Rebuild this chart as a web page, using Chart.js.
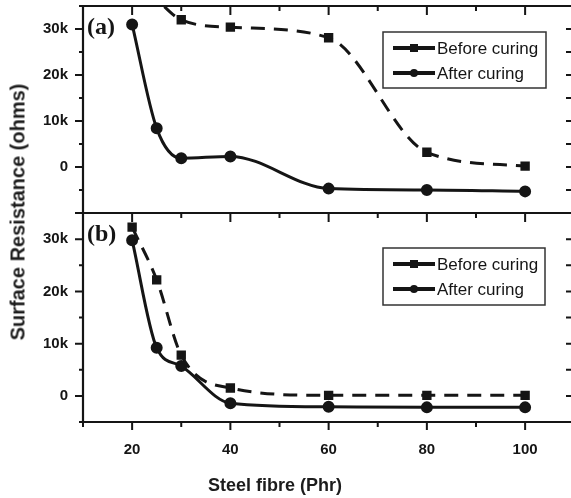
<!DOCTYPE html>
<html>
<head>
<meta charset="utf-8">
<script src="https://cdn.jsdelivr.net/npm/chart.js@4.4.1/dist/chart.umd.min.js"></script>
<style>
    html, body {
        margin: 0;
        padding: 0;
        background: #fff;
    }

    #wrap {
        position: relative;
        width: 571px;
        height: 498px;
        overflow: hidden;
        background: #fff;
    }

    #canvasA {
        position: absolute;
        left: 0;
        top: 0;
    }

    #canvasB {
        position: absolute;
        left: 0;
        top: 210px;
    }

    .ytitle {
        position: absolute;
        left: 18px;
        top: 212px;
        transform: translate(-50%, -50%) rotate(-90deg);
        font: bold 20px "Liberation Sans", Arial, sans-serif;
        color: #1c1c1c;
        white-space: nowrap;
    }

    .xtitle {
        position: absolute;
        left: 275px;
        top: 485px;
        transform: translate(-50%, -50%);
        font: bold 18px "Liberation Sans", Arial, sans-serif;
        color: #1c1c1c;
        white-space: nowrap;
    }
</style>
</head>
<body>
<div id="wrap">
    <canvas id="canvasA" width="571" height="216"></canvas>
    <canvas id="canvasB" width="571" height="288"></canvas>
    <div class="ytitle">Surface Resistance (ohms)</div>
    <div class="xtitle">Steel fibre (Phr)</div>
</div>

<script>

// steel fibre content (Phr)
const fibre = [20, 25, 30, 40, 60, 80, 100];

// panel (a)
const beforeA = [42000, 36500, 32000, 30400, 28100, 3200, 200];
const afterA = [31000, 8400, 1900, 2300, -4700, -5000, -5300];

// panel (b)
const beforeB = [32300, 22200, 7800, 1500, 100, 100, 100];
const afterB = [29800, 9200, 5700, -1400, -2100, -2200, -2200];

const xTicks = [20, 40, 60, 80, 100];
const yTicks = [0, 10000, 20000, 30000];

const seriesNames = ['Before curing', 'After curing'];


const INK = '#151515';
const TICK_FONT = '"Liberation Sans Narrow", "Liberation Sans", Arial, sans-serif';


function toPoints(values) {
    return fibre.map((f, i) => ({ x: f, y: values[i] }));
}


function kLabel(v) {
    return v === 0 ? '0' : (v / 1000) + 'k';
}


// keep the scales from pushing the plot area around
function noPadding(s) {
    s.paddingTop = 0;
    s.paddingBottom = 0;
    s.paddingLeft = 0;
    s.paddingRight = 0;
}


// frame, minor / major ticks and the (a)/(b) tag
const panelFrame = {

    id: 'panelFrame',

    afterDatasetsDraw(chart, args, opts) {

        const { ctx, chartArea: a } = chart;
        const x = chart.scales.x;
        const y = chart.scales.y;

        ctx.save();
        ctx.strokeStyle = INK;
        ctx.lineWidth = 2.2;
        ctx.lineCap = 'butt';

        ctx.beginPath();
        ctx.moveTo(a.left, a.top);
        ctx.lineTo(a.right, a.top);
        ctx.moveTo(a.left, a.top - 1);
        ctx.lineTo(a.left, a.bottom + 1);
        ctx.moveTo(a.left, a.bottom);
        ctx.lineTo(a.right, a.bottom);
        ctx.stroke();

        ctx.lineWidth = 2;
        ctx.beginPath();

        for (let v = y.min; v <= y.max + 1; v += 5000) {
            const py = y.getPixelForValue(v);
            const len = v % 10000 === 0 ? 8 : 4;
            ctx.moveTo(a.left, py);
            ctx.lineTo(a.left - len, py);
            ctx.moveTo(a.right, py);
            ctx.lineTo(a.right - 5, py);
        }

        for (let v = 20; v <= 100; v += 10) {
            const px = x.getPixelForValue(v);
            const len = v % 20 === 0 ? 9 : 5;
            ctx.moveTo(px, a.top);
            ctx.lineTo(px, a.top + len);
        }

        if (opts.bottomTicks) {
            for (let v = 10; v <= 100; v += 10) {
                const px = x.getPixelForValue(v);
                const len = v % 20 === 0 ? 8 : 5;
                ctx.moveTo(px, a.bottom);
                ctx.lineTo(px, a.bottom + len);
            }
        }

        ctx.stroke();

        ctx.fillStyle = INK;
        ctx.font = 'bold 24px "Liberation Serif", "Times New Roman", serif';
        ctx.textBaseline = 'middle';
        ctx.fillText(opts.tag, a.left + 4, a.top + opts.tagY);

        ctx.restore();
    }
};


// boxed legend inside the panel
const boxLegend = {

    id: 'boxLegend',

    afterDraw(chart, args, opts) {

        const { ctx, chartArea: a } = chart;

        const left = opts.left;
        const top = a.top + opts.top;
        const w = opts.width;
        const h = opts.height;

        ctx.save();

        ctx.fillStyle = '#fff';
        ctx.fillRect(left, top, w, h);
        ctx.strokeStyle = '#333';
        ctx.lineWidth = 1.5;
        ctx.strokeRect(left, top, w, h);

        chart.data.datasets.forEach((ds, i) => {

            const cy = top + 16 + i * 25;
            const x0 = left + 10;
            const x1 = left + 52;
            const mid = (x0 + x1) / 2;

            ctx.strokeStyle = INK;
            ctx.lineWidth = 4;
            ctx.beginPath();
            ctx.moveTo(x0, cy);
            ctx.lineTo(x1, cy);
            ctx.stroke();

            ctx.fillStyle = INK;
            if (ds.pointStyle === 'rect') {
                ctx.fillRect(mid - 4, cy - 4, 8, 8);
            } else {
                ctx.beginPath();
                ctx.arc(mid, cy, 4, 0, Math.PI * 2);
                ctx.fill();
            }

            ctx.font = '17px ' + TICK_FONT;
            ctx.textBaseline = 'middle';
            ctx.fillText(ds.label, x1 + 2, cy + 1);
        });

        ctx.restore();
    }
};


function makePanel(canvasId, before, after, cfg) {

    return new Chart(document.getElementById(canvasId), {

        type: 'line',

        data: {
            datasets: [
                {
                    label: seriesNames[0],
                    data: toPoints(before),
                    borderColor: INK,
                    backgroundColor: INK,
                    borderWidth: 3,
                    borderDash: [14, 9],
                    pointStyle: 'rect',
                    pointRadius: 4.5,
                    cubicInterpolationMode: 'monotone',
                    fill: false
                },
                {
                    label: seriesNames[1],
                    data: toPoints(after),
                    borderColor: INK,
                    backgroundColor: INK,
                    borderWidth: 3,
                    pointStyle: 'circle',
                    pointRadius: 4.5,
                    cubicInterpolationMode: 'monotone',
                    fill: false
                }
            ]
        },

        options: {

            responsive: false,
            animation: false,
            devicePixelRatio: 1,

            layout: {
                autoPadding: false,
                padding: cfg.padding
            },

            plugins: {
                legend: { display: false },
                tooltip: { enabled: false },
                panelFrame: {
                    tag: cfg.tag,
                    tagY: cfg.tagY,
                    bottomTicks: cfg.showX
                },
                boxLegend: cfg.legend
            },

            scales: {

                x: {
                    type: 'linear',
                    min: 10,
                    max: 109.34,
                    display: cfg.showX,
                    afterBuildTicks: s => {
                        s.ticks = xTicks.map(v => ({ value: v }));
                    },
                    afterFit: s => {
                        s.height = cfg.xHeight;
                        noPadding(s);
                    },
                    grid: { display: false },
                    border: { display: false },
                    ticks: {
                        padding: 11,
                        color: INK,
                        maxRotation: 0,
                        font: { family: TICK_FONT, size: 15, weight: 'bold' }
                    }
                },

                y: {
                    min: cfg.yMin,
                    max: cfg.yMax,
                    afterBuildTicks: s => {
                        s.ticks = yTicks.map(v => ({ value: v }));
                    },
                    afterFit: s => {
                        s.width = 83;
                        noPadding(s);
                    },
                    grid: { display: false, drawTicks: false },
                    border: { display: false },
                    ticks: {
                        padding: 15,
                        color: INK,
                        callback: kLabel,
                        font: { family: TICK_FONT, size: 15, weight: 'bold' }
                    }
                }
            }
        },

        plugins: [panelFrame, boxLegend]
    });
}


makePanel('canvasA', beforeA, afterA, {
    tag: '(a)',
    tagY: 22,
    showX: false,
    xHeight: 0,
    yMin: -10000,
    yMax: 35000,
    padding: { top: 6, bottom: 3, left: 0, right: 0 },
    legend: { left: 383, top: 26, width: 163, height: 56 }
});


makePanel('canvasB', beforeB, afterB, {
    tag: '(b)',
    tagY: 22,
    showX: true,
    xHeight: 76,
    yMin: -5000,
    yMax: 35000,
    padding: { top: 3, bottom: 0, left: 0, right: 0 },
    legend: { left: 383, top: 35, width: 162, height: 57 }
});

</script>
</body>
</html>
